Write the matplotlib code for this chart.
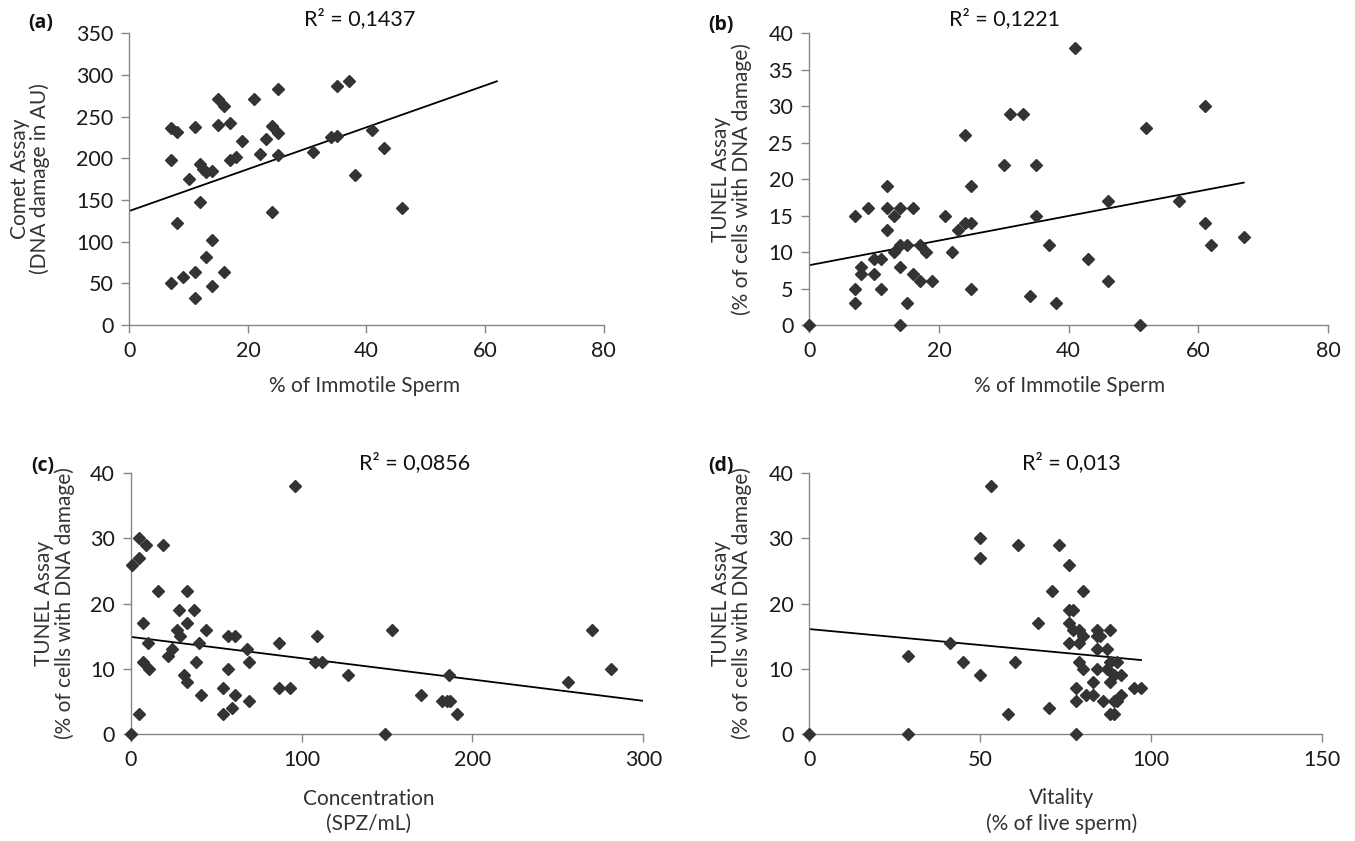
import numpy as np
import matplotlib
matplotlib.use("Agg")
import matplotlib.pyplot as plt

plt.rcParams["font.family"] = ["Lato", "DejaVu Sans"]

# (a) comet assay vs immotile sperm
a_x = [7, 8, 11, 7, 15, 16, 21, 25, 35, 37, 15, 17, 24, 25, 19, 23, 17, 18, 22, 25,
       31, 34, 35, 41, 43, 38, 46, 24, 12, 12.5, 13, 14, 10, 12, 8, 14, 13, 7, 9, 11,
       16, 14, 11]
a_y = [236, 232, 238, 198, 271, 263, 271, 283, 287, 293, 240, 242, 239, 230, 221, 223, 198, 202, 205, 204,
       207, 225, 227, 234, 212, 180, 140, 135, 193, 187, 183, 185, 175, 148, 122, 102, 82, 50, 58, 64,
       63, 47, 32]

# (b) TUNEL vs immotile sperm
b_x = [0, 41, 31, 33, 24, 30, 35, 12, 25, 7, 9, 12, 14, 16, 13, 21, 35, 12, 23, 24,
       25, 14, 15, 17, 37, 13, 18, 22, 10, 11, 8, 8, 10, 14, 16, 17, 19, 7, 11, 25,
       7, 15, 34, 38, 14, 61, 52, 46, 57, 61, 62, 67, 43, 46, 51]
b_y = [0, 38, 29, 29, 26, 22, 22, 19, 19, 15, 16, 16, 16, 16, 15, 15, 15, 13, 13, 14,
       14, 11, 11, 11, 11, 10, 10, 10, 9, 9, 8, 7, 7, 8, 7, 6, 6, 5, 5, 5,
       3, 3, 4, 3, 0, 30, 27, 17, 17, 14, 11, 12, 9, 6, 0]

# (c) TUNEL vs concentration
c_x = [0, 1, 5, 5, 9, 19, 16, 33, 28, 37, 7, 33, 27, 29, 44, 57, 61, 10, 40, 87,
       24, 22, 68, 109, 7, 11, 38, 57, 69, 108, 112, 31, 33, 127, 54, 87, 93, 41, 61, 69,
       54, 59, 5, 96, 149, 153, 186, 170, 182, 185, 187, 191, 256, 270, 281]
c_y = [0, 26, 30, 27, 29, 29, 22, 22, 19, 19, 17, 17, 16, 15, 16, 15, 15, 14, 14, 14,
       13, 12, 13, 15, 11, 10, 11, 10, 11, 11, 11, 9, 8, 9, 7, 7, 7, 6, 6, 5,
       3, 4, 3, 38, 0, 16, 9, 6, 5, 5, 5, 3, 8, 16, 10]

# (d) TUNEL vs vitality
d_x = [0, 29, 29, 41, 45, 50, 50, 50, 53, 61, 60, 58, 67, 70, 71, 73, 76, 80, 76, 77,
       76, 77, 79, 80, 79, 76, 84, 88, 84, 85, 84, 87, 79, 80, 84, 87, 88, 90, 89, 91,
       83, 88, 78, 95, 97, 81, 83, 91, 78, 86, 89, 90, 88, 89, 78]
d_y = [0, 0, 12, 14, 11, 9, 30, 27, 38, 29, 11, 3, 17, 4, 22, 29, 26, 22, 19, 19,
       17, 16, 16, 15, 14, 14, 16, 16, 15, 15, 13, 13, 11, 10, 10, 10, 11, 11, 9, 9,
       8, 8, 7, 7, 7, 6, 6, 6, 5, 5, 5, 5, 3, 3, 0]

# trend lines: intercept, slope, x end
trends = {"a": (136.8, 2.51, 62), "b": (8.2, 0.169, 67),
          "c": (14.9, -0.0327, 300), "d": (16.1, -0.049, 97)}
r2_labels = {"a": "R² = 0,1437", "b": "R² = 0,1221", "c": "R² = 0,0856", "d": "R² = 0,013"}

W, H = 1355, 841


def px(x, y):
    return x / W, 1 - y / H


def axes_px(fig, left, top, right, bottom):
    return fig.add_axes([left / W, 1 - bottom / H, (right - left) / W, (bottom - top) / H])


fig = plt.figure(figsize=(W / 100, H / 100), dpi=100)

tunel = ["TUNEL Assay", "(% of cells with DNA damage)"]
panels = [
    ("a", a_x, a_y, (129.3, 33.3, 603.6, 325), (0, 80, 20), (0, 350, 50),
     ["Comet Assay", "(DNA damage in AU)"], "% of Immotile Sperm",
     (20, 40, 179), (365, 386), (41, 23), (360, 19)),
    ("b", b_x, b_y, (809.3, 33.3, 1328, 325), (0, 80, 20), (0, 40, 5),
     tunel, "% of Immotile Sperm",
     (721, 742, 179), (1070, 386), (721, 25), (1005, 19)),
    ("c", c_x, c_y, (130.7, 473.3, 643.3, 734), (0, 300, 100), (0, 40, 10),
     tunel, "Concentration\n(SPZ/mL)",
     (44, 65, 603), (369, 811), (43, 466), (415, 463)),
    ("d", d_x, d_y, (809.3, 473.3, 1322.3, 734), (0, 150, 50), (0, 40, 10),
     tunel, "Vitality\n(% of live sperm)",
     (721, 742, 603), (1062, 811), (721, 466), (1071, 463)),
]

for key, xs, ys, box, xr, yr, ylab, xlab, ylpos, xlpos, tagpos, r2pos in panels:
    ax = axes_px(fig, *box)
    ax.plot(xs, ys, "D", color="#333333", markersize=5.8, ls="none", clip_on=False, zorder=3)
    b0, b1, xend = trends[key]
    tx = np.array([0, xend])
    ax.plot(tx, b0 + b1 * tx, color="black", lw=1.3, zorder=2)
    ax.set_xlim(xr[0], xr[1])
    ax.set_ylim(yr[0], yr[1])
    ax.set_xticks(np.arange(xr[0], xr[1] + 1, xr[2]))
    ax.set_yticks(np.arange(yr[0], yr[1] + 1, yr[2]))
    for s in ["top", "right"]:
        ax.spines[s].set_visible(False)
    for s in ["left", "bottom"]:
        ax.spines[s].set_color("#868686")
        ax.spines[s].set_linewidth(1.0)
    ax.tick_params(direction="out", length=6, width=1.0, color="#868686",
                   labelsize=15.5, labelcolor="#1a1a1a", pad=5.5)
    ax.patch.set_alpha(0)

    # y label, one text per line
    x1, x2, yc = ylpos
    for line, lx in zip(ylab, (x1, x2)):
        fig.text(*px(lx, yc), line, rotation=90, ha="center", va="center",
                 fontsize=15, color="#333333")
    fig.text(*px(*xlpos), xlab, ha="center", va="center",
             fontsize=15, color="#333333", linespacing=1.3)
    fig.text(*px(*tagpos), f"({key})", ha="center", va="center",
             fontsize=14, fontweight="bold", color="#111111",
             family=["Open Sans", "DejaVu Sans"])
    fig.text(*px(*r2pos), r2_labels[key], ha="center", va="center",
             fontsize=15.5, color="#111111")

fig.savefig("out.png", dpi=100)
